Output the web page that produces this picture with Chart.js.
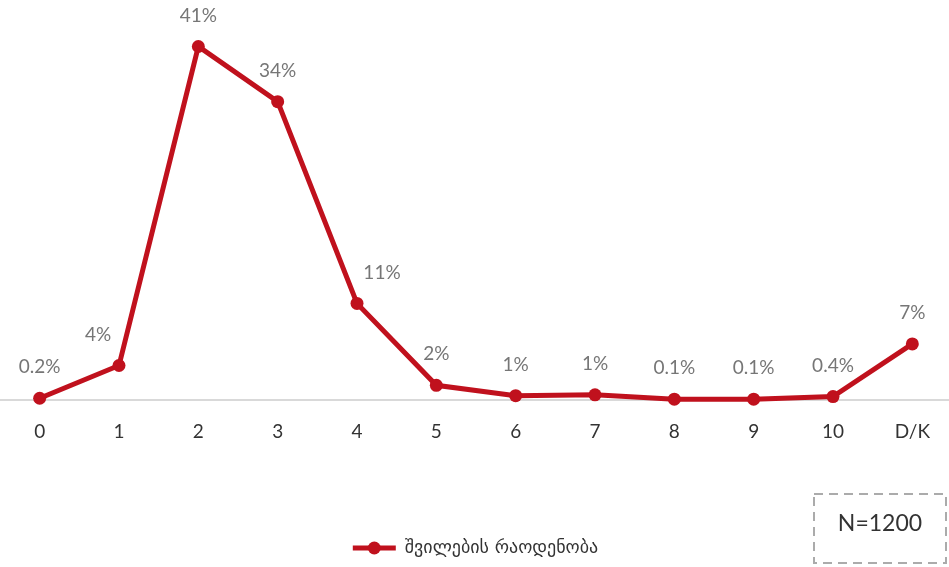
<!DOCTYPE html>
<html>
<head>
<meta charset="utf-8">
<script src="https://cdn.jsdelivr.net/npm/chart.js@4/dist/chart.umd.min.js"></script>
<style>
  html, body { margin: 0; background: #fff; overflow: hidden; }
  canvas { display: block; }
</style>
</head>
<body>
<canvas id="kidsChart" width="952" height="567"></canvas>
<script>
// categories: number of children
const categories = ["0", "1", "2", "3", "4", "5", "6", "7", "8", "9", "10", "D/K"];
// share of respondents, %
const shares = [0.2, 4.0, 41.0, 34.6, 11.2, 1.7, 0.5, 0.6, 0.1, 0.1, 0.4, 6.5];
// labels as printed on the chart
const shareLabels = ["0.2%", "4%", "41%", "34%", "11%", "2%", "1%", "1%", "0.1%", "0.1%", "0.4%", "7%"];
const seriesName = "შვილების რაოდენობა";
const sampleNote = "N=1200";

const red = "#C0111D";
const narrow = "Lato, 'Open Sans', sans-serif";

// draw the % labels above each point
const valueLabels = {
    id: "valueLabels",
    afterDatasetsDraw(chart) {
        const ctx = chart.ctx;
        const meta = chart.getDatasetMeta(0);
        const shift = { 1: -21, 4: 25 };
        ctx.save();
        ctx.font = "19px " + narrow;
        ctx.fillStyle = "#767676";
        ctx.textAlign = "center";
        ctx.textBaseline = "middle";
        meta.data.forEach((pt, i) => {
            ctx.fillText(shareLabels[i], pt.x + (shift[i] || 0), pt.y - 31);
        });
        ctx.restore();
    }
};

// dot on the legend line + N box
const extras = {
    id: "extras",
    afterDraw(chart) {
        const ctx = chart.ctx;
        const box = chart.legend.legendHitBoxes[0];
        if (box) {
            ctx.save();
            ctx.fillStyle = red;
            ctx.beginPath();
            ctx.arc(box.left + 21.5, box.top + box.height / 2, 6.5, 0, Math.PI * 2);
            ctx.fill();
            ctx.restore();
        }

        ctx.save();
        ctx.strokeStyle = "#ababab";
        ctx.lineWidth = 2;
        ctx.setLineDash([9, 6]);
        ctx.strokeRect(814, 494, 132, 69);
        ctx.setLineDash([]);
        ctx.font = "23px " + narrow;
        ctx.fillStyle = "#333";
        ctx.textAlign = "center";
        ctx.textBaseline = "middle";
        ctx.fillText(sampleNote, 880, 524);
        ctx.restore();
    }
};

new Chart(document.getElementById("kidsChart"), {
    type: "line",
    data: {
        labels: categories,
        datasets: [{
            label: seriesName,
            data: shares,
            borderColor: red,
            backgroundColor: red,
            borderWidth: 5,
            pointRadius: 6.5,
            pointBackgroundColor: red,
            pointBorderWidth: 0,
            tension: 0,
            clip: false
        }]
    },
    options: {
        responsive: false,
        animation: false,
        layout: {
            autoPadding: false,
            padding: { top: 12, bottom: 0, left: -1, right: 0 }
        },
        scales: {
            x: {
                offset: true,
                grid: { display: false, drawTicks: false },
                border: { display: true, color: "#d9d9d9", width: 2 },
                ticks: {
                    padding: 20,
                    color: "#333",
                    font: { family: narrow, size: 19 }
                },
                afterFit(scale) { scale.height = 129; }
            },
            y: {
                display: false,
                min: 0,
                max: 45
            }
        },
        plugins: {
            legend: {
                position: "bottom",
                labels: {
                    boxWidth: 43,
                    boxHeight: 5,
                    padding: 10,
                    color: "#333",
                    font: { family: "'DejaVu Sans', sans-serif", size: 18 },
                    generateLabels(chart) {
                        const items = Chart.defaults.plugins.legend.labels.generateLabels(chart);
                        items.forEach(it => { it.lineWidth = 0; });
                        return items;
                    }
                }
            },
            tooltip: { enabled: false }
        }
    },
    plugins: [valueLabels, extras]
});
</script>
</body>
</html>
